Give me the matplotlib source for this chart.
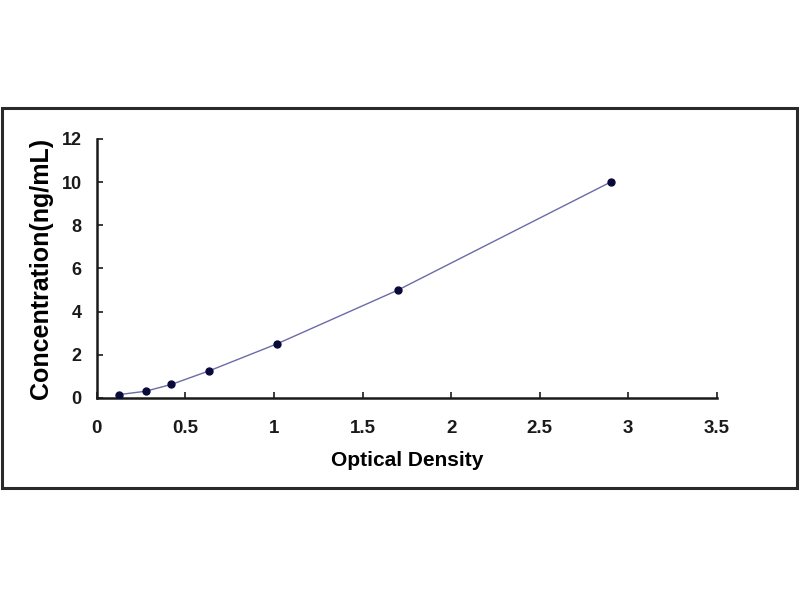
import matplotlib.pyplot as plt
from matplotlib.patches import Rectangle

od = [0.125, 0.275, 0.42, 0.632, 1.015, 1.70, 2.90]
conc = [0.156, 0.312, 0.625, 1.25, 2.5, 5.0, 10.0]
xticks = [0, 0.5, 1, 1.5, 2, 2.5, 3, 3.5]
xticklabels = ["0", "0.5", "1", "1.5", "2", "2.5", "3", "3.5"]
yticks = [0, 2, 4, 6, 8, 10, 12]

plt.rcParams['font.family'] = ['Liberation Sans', 'DejaVu Sans']
plt.rcParams['font.weight'] = 'bold'

fig = plt.figure(figsize=(8, 6), dpi=100)
ax = fig.add_axes([0.121, 0.3367, 0.775, 0.4317])

# outer frame around the chart
fig.patches.append(Rectangle((0.003, 0.187), 0.993, 0.633, transform=fig.transFigure,
                             fill=False, edgecolor="#2a2a2a", linewidth=2.2))

ax.plot(od, conc, color="#6b6ba8", linewidth=1.0, zorder=2)
ax.plot(od, conc, linestyle="none", marker="o", markersize=5,
        color="#0a0a3a", zorder=3)

ax.set_xlim(0, 3.5)
ax.set_ylim(0, 12)
ax.set_xticks(xticks)
ax.set_xticklabels(xticklabels)
ax.set_yticks(yticks)

for s in ["top", "right"]:
    ax.spines[s].set_visible(False)
for s in ["left", "bottom"]:
    ax.spines[s].set_linewidth(1.8)
    ax.spines[s].set_color("#1a1a1a")

ax.tick_params(axis="x", direction="in", length=4, width=1.2, pad=16,
               labelsize=13.5, colors="#1a1a1a")
ax.tick_params(axis="y", direction="in", length=4, width=1.2, pad=11,
               labelsize=13, colors="#1a1a1a")
for lab in ax.get_xticklabels() + ax.get_yticklabels():
    lab.set_fontweight("bold")

ax.set_xlabel("Optical Density", fontsize=15, fontweight="bold", labelpad=10)
ax.set_ylabel("Concentration(ng/mL)", fontsize=18, fontweight="bold", labelpad=6)

fig.savefig("out.png", dpi=100)
